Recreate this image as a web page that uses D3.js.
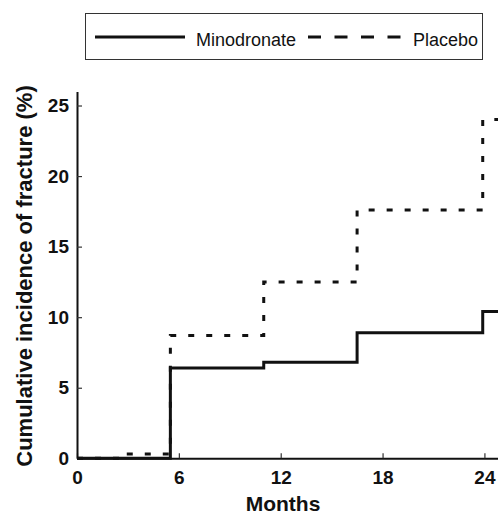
<!DOCTYPE html>
<html>
<head>
<meta charset="utf-8">
<script src="https://cdn.jsdelivr.net/npm/d3@7"></script>
<style>
  body { margin: 0; padding: 0; overflow: hidden; background: #fff; }
  svg { font-family: "Liberation Sans", Arial, Helvetica, sans-serif; }
</style>
</head>
<body>
<script>

    const width = 498;
    const height = 517;

    // step times (months) and cumulative incidence (%)
    const minoMonths = [0, 5.5, 11, 16.5, 23.9, 24.8];
    const minoValues = [0, 6.4, 6.8, 8.9, 10.4, 10.4];
    const placeboMonths = [0, 2.7, 5.5, 11, 16.5, 23.9, 24.8];
    const placeboValues = [0, 0.3, 8.7, 12.5, 17.6, 24.0, 24.0];

    const xTicks = [0, 6, 12, 18, 24];
    const yTicks = [0, 5, 10, 15, 20, 25];
    const seriesNames = ["Minodronate", "Placebo"];

    const x = d3.scaleLinear().domain([0, 24.8]).range([77, 498]);
    const y = d3.scaleLinear().domain([0, 26]).range([458.3, 91.4]);

    const svg = d3.select("body").append("svg")
      .attr("width", width)
      .attr("height", height);

    // axes, ticks pointing inward
    const xAxis = svg.append("g")
      .attr("transform", "translate(0," + y(0) + ")")
      .call(d3.axisBottom(x).tickValues(xTicks).tickSizeInner(-5).tickSizeOuter(0).tickPadding(12));

    const yAxis = svg.append("g")
      .attr("transform", "translate(" + x(0) + ",0)")
      .call(d3.axisLeft(y).tickValues(yTicks).tickSizeInner(-5).tickSizeOuter(0).tickPadding(8));

    [xAxis, yAxis].forEach(g => {
      g.select(".domain").attr("stroke", "#111").attr("stroke-width", 2);
      g.selectAll(".tick line").attr("stroke", "#333").attr("stroke-width", 1.2);
      g.selectAll(".tick text")
        .attr("fill", "#111")
        .style("font-size", "19px")
        .style("font-weight", "bold");
      g.attr("font-family", null).attr("font-size", null);
    });

    const line = d3.line()
      .x(d => x(d[0]))
      .y(d => y(d[1]))
      .curve(d3.curveStepAfter);

    svg.append("path")
      .datum(d3.zip(placeboMonths, placeboValues))
      .attr("fill", "none")
      .attr("stroke", "#111")
      .attr("stroke-width", 3)
      .attr("stroke-dasharray", "6,12")
      .attr("d", line);

    svg.append("path")
      .datum(d3.zip(minoMonths, minoValues))
      .attr("fill", "none")
      .attr("stroke", "#111")
      .attr("stroke-width", 3)
      .attr("d", line);

    // axis titles
    svg.append("text")
      .attr("x", 283)
      .attr("y", 511)
      .attr("text-anchor", "middle")
      .style("font-size", "21px")
      .style("font-weight", "bold")
      .attr("fill", "#111")
      .text("Months");

    svg.append("text")
      .attr("transform", "translate(32,276) rotate(-90)")
      .attr("text-anchor", "middle")
      .style("font-size", "22px")
      .style("font-weight", "bold")
      .attr("fill", "#111")
      .text("Cumulative incidence of fracture (%)");

    // legend
    const legend = svg.append("g");
    legend.append("rect")
      .attr("x", 85.5).attr("y", 13.5)
      .attr("width", 397).attr("height", 46)
      .attr("fill", "#fff")
      .attr("stroke", "#333")
      .attr("stroke-width", 1);

    legend.append("line")
      .attr("x1", 95).attr("x2", 185).attr("y1", 37).attr("y2", 37)
      .attr("stroke", "#111").attr("stroke-width", 3);
    legend.append("text")
      .attr("x", 196).attr("y", 46)
      .style("font-size", "18px").attr("fill", "#111")
      .text(seriesNames[0]);

    legend.append("line")
      .attr("x1", 308).attr("x2", 403).attr("y1", 37).attr("y2", 37)
      .attr("stroke", "#111").attr("stroke-width", 3)
      .attr("stroke-dasharray", "13,13.5");
    legend.append("text")
      .attr("x", 413).attr("y", 46)
      .style("font-size", "18px").attr("fill", "#111")
      .text(seriesNames[1]);
</script>
</body>
</html>
